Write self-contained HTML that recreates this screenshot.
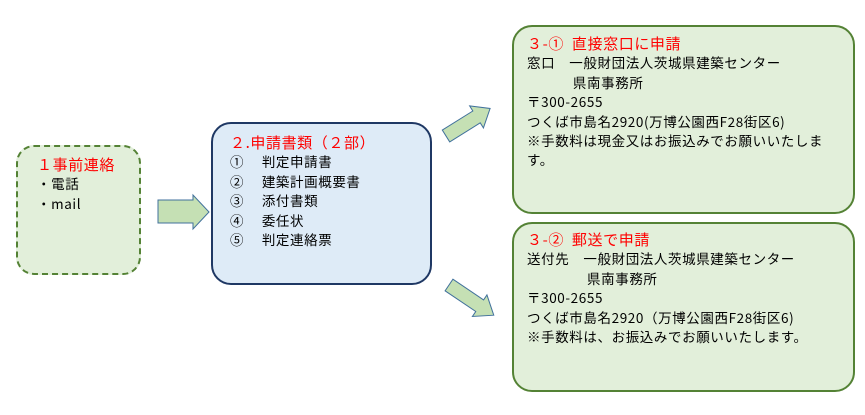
<!DOCTYPE html>
<html><head><meta charset="utf-8"><style>
body{margin:0;width:865px;height:415px;background:#fff;position:relative;overflow:hidden;font-family:"Noto Sans CJK JP","Liberation Sans",sans-serif;}
.b{position:absolute;box-sizing:border-box;}
.t{position:absolute;font-size:13.5px;line-height:19.4px;color:#000;white-space:pre;letter-spacing:0.6px;}
.r{color:#ff0000;font-size:15px;}
</style></head><body>
<svg width="865" height="415" style="position:absolute;left:0;top:0">
<polygon points="158,200 193,200 193,195 209,212 193,229 193,223 158,223" fill="#c5e0b4" stroke="#41719c" stroke-width="1"/>
<g transform="translate(446,136) rotate(-32)"><polygon points="0,-7 36,-7 36,-13 52,0 36,13 36,7 0,7" fill="#c5e0b4" stroke="#41719c" stroke-width="1"/></g>
<g transform="translate(449,285) rotate(34)"><polygon points="0,-7 37,-7 37,-13 54,0 37,13 37,7 0,7" fill="#c5e0b4" stroke="#41719c" stroke-width="1"/></g>
</svg>
<div class="b" style="left:16px;top:145px;width:125px;height:130px;background:#e2efda;border:2.5px dashed #548235;border-radius:18px"></div>
<div class="b" style="left:211px;top:122px;width:221px;height:163px;background:#deebf7;border:2px solid #1f3864;border-radius:20px"></div>
<div class="b" style="left:512px;top:25px;width:343px;height:189px;background:#e2efda;border:2px solid #548235;border-radius:20px"></div>
<div class="b" style="left:512px;top:222px;width:343px;height:170px;background:#e2efda;border:2px solid #548235;border-radius:20px"></div>
<div class="t" style="left:37px;top:155px"><span class="r">１事前連絡</span>
・電話
・mail</div>
<div class="t" style="left:230px;top:133px"><span class="r">２.申請書類（２部）</span>
①　 判定申請書
②　 建築計画概要書
③　 添付書類
④　 委任状
⑤　 判定連絡票</div>
<div class="t" style="left:527px;top:34px"><span class="r">３-①  直接窓口に申請</span>
窓口　一般財団法人茨城県建築センター
　　　 県南事務所
〒300-2655
つくば市島名2920(万博公園西F28街区6)
※手数料は現金又はお振込みでお願いいたしま
す。</div>
<div class="t" style="left:527px;top:230px"><span class="r">３-②  郵送で申請</span>
送付先　一般財団法人茨城県建築センター
　　　　 県南事務所
〒300-2655
つくば市島名2920（万博公園西F28街区6)
※手数料は、お振込みでお願いいたします。</div>
</body></html>
